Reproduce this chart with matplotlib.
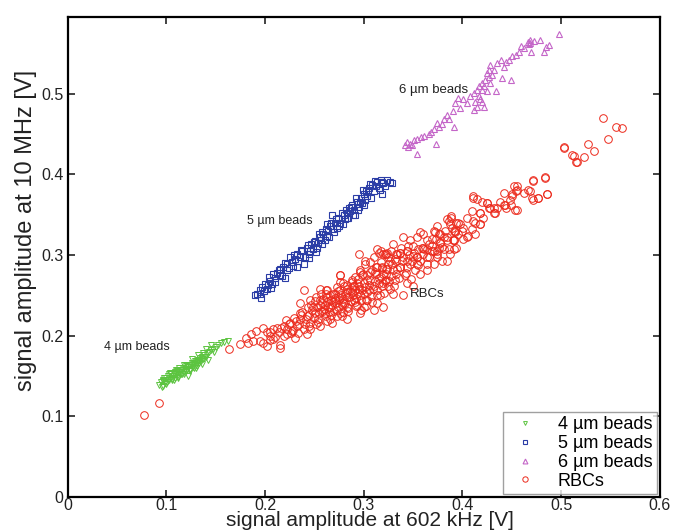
import matplotlib
matplotlib.use("Agg")
import matplotlib.pyplot as plt

plt.rcParams['font.family'] = ['Liberation Sans', 'DejaVu Sans']

# ---------------- data ----------------
beads4_x = [0.092,0.094,0.096,0.097,0.099,0.100,0.101,0.102,0.103,0.104,0.105,0.106,0.107,0.108,0.109,
            0.110,0.111,0.112,0.113,0.114,0.115,0.116,0.117,0.118,0.119,0.120,0.121,0.122,0.123,0.124,
            0.125,0.126,0.127,0.128,0.129,0.130,0.131,0.132,0.133,0.134,0.135,0.136,0.137,0.138,0.140,
            0.141,0.143,0.145,0.147,0.150,0.152,0.155,0.158,0.162,0.145,0.140,0.108,0.112,0.116,0.120,
            0.124,0.128,0.110,0.104,0.098,0.095,0.118,0.126,0.132,
            0.100,0.103,0.106,0.109,0.112,0.115,0.118,0.121,0.124,0.127,0.130,0.133,0.136,0.139,0.142,
            0.096,0.113,0.122,0.131,0.137,0.148]
beads4_y = [0.139,0.142,0.138,0.145,0.141,0.147,0.143,0.150,0.145,0.148,0.152,0.146,0.150,0.154,0.148,
            0.152,0.156,0.151,0.155,0.158,0.153,0.157,0.160,0.155,0.159,0.162,0.157,0.161,0.164,0.159,
            0.163,0.166,0.161,0.165,0.168,0.163,0.167,0.170,0.166,0.172,0.169,0.174,0.171,0.176,0.173,
            0.178,0.180,0.182,0.184,0.186,0.189,0.191,0.192,0.193,0.189,0.183,0.145,0.148,0.152,0.156,
            0.156,0.160,0.158,0.154,0.147,0.136,0.164,0.171,0.176,
            0.140,0.152,0.145,0.155,0.149,0.158,0.152,0.163,0.157,0.166,0.160,0.170,0.165,0.174,0.170,
            0.144,0.160,0.150,0.162,0.178,0.180]

beads5_x = [0.192,0.190,0.195,0.197,0.202,0.200,0.205,0.204,0.210,0.208,0.215,0.214,0.218,0.222,0.222,
            0.227,0.225,0.230,0.232,0.235,0.237,0.239,0.242,0.244,0.247,0.249,0.251,0.254,0.256,0.258,
            0.259,0.263,0.264,0.266,0.269,0.271,0.273,0.274,0.276,0.280,0.281,0.283,0.285,0.286,0.288,
            0.290,0.293,0.295,0.297,0.298,0.300,0.303,0.305,0.307,0.308,0.310,0.313,0.315,0.317,0.319,
            0.320,0.322,0.327,0.329,0.268,0.263,0.253,0.246,0.232,0.220,0.195,0.207,0.215,0.258,0.283,
            0.291,0.302,0.312,
            0.196,0.199,0.203,0.206,0.210,0.212,0.217,0.220,0.224,0.228,0.229,0.233,0.236,0.240,0.243,
            0.245,0.250,0.252,0.255,0.257,0.261,0.262,0.265,0.267,0.270,0.272,0.275,0.278,0.279,0.282,
            0.284,0.287,0.289,0.292,0.294,0.296,0.299,0.301,0.304,0.306,0.311,0.316,0.318,0.324,0.300]
beads5_y = [0.252,0.250,0.256,0.260,0.258,0.264,0.268,0.273,0.271,0.277,0.275,0.281,0.285,0.289,0.281,
            0.291,0.297,0.295,0.301,0.297,0.305,0.289,0.309,0.301,0.313,0.307,0.317,0.315,0.322,0.313,
            0.326,0.324,0.330,0.336,0.332,0.340,0.334,0.346,0.340,0.350,0.344,0.352,0.358,0.354,0.362,
            0.356,0.366,0.360,0.370,0.364,0.376,0.373,0.383,0.370,0.387,0.379,0.391,0.383,0.393,0.375,
            0.389,0.385,0.391,0.389,0.350,0.338,0.309,0.305,0.285,0.271,0.252,0.264,0.283,0.328,0.346,
            0.350,0.379,0.385,
            0.247,0.255,0.263,0.259,0.266,0.278,0.274,0.290,0.284,0.286,0.300,0.292,0.306,0.298,0.312,
            0.296,0.316,0.304,0.326,0.318,0.319,0.332,0.322,0.340,0.328,0.344,0.336,0.352,0.338,0.356,
            0.346,0.360,0.350,0.370,0.356,0.366,0.380,0.368,0.378,0.388,0.392,0.380,0.390,0.393,0.362]

beads6_x = [0.498,0.479,0.469,0.468,0.466,0.459,0.470,0.483,0.485,0.488,0.450,0.454,0.447,0.444,0.439,
            0.435,0.428,0.425,0.427,0.423,0.420,0.417,0.415,0.412,0.440,0.449,0.434,0.425,0.418,0.422,
            0.415,0.408,0.401,0.396,0.393,0.398,0.390,0.384,0.381,0.374,0.376,0.371,0.366,0.391,0.361,
            0.354,0.351,0.347,0.342,0.344,0.354,0.373,0.420,0.413,0.469,0.473,0.457,0.462,0.442,0.432,
            0.428,0.420,0.417,0.405,0.412,0.386,0.379,0.368,0.358,0.349,0.345,0.427,0.430,0.422]
beads6_y = [0.574,0.567,0.566,0.561,0.564,0.559,0.552,0.552,0.558,0.560,0.546,0.548,0.542,0.539,0.542,
            0.538,0.535,0.525,0.521,0.517,0.513,0.509,0.505,0.501,0.519,0.517,0.503,0.503,0.493,0.484,
            0.484,0.497,0.493,0.495,0.488,0.482,0.478,0.474,0.468,0.464,0.458,0.456,0.450,0.458,0.448,
            0.444,0.442,0.438,0.436,0.440,0.425,0.438,0.490,0.490,0.563,0.565,0.552,0.556,0.533,0.529,
            0.513,0.505,0.497,0.488,0.480,0.468,0.462,0.452,0.446,0.436,0.434,0.529,0.523,0.509]

rbc_x = [0.077,0.092,0.175,0.163,
         0.181,0.186,0.191,0.195,0.198,0.202,0.198,0.205,0.208,0.214,0.215,0.219,0.222,0.225,0.227,0.232,
         0.235,0.239,0.242,0.246,0.251,0.254,0.256,0.259,0.262,0.266,0.269,0.273,0.274,0.276,0.278,0.279,
         0.283,0.284,0.288,0.290,0.293,0.295,0.296,0.300,0.301,0.303,0.305,0.306,0.310,0.311,0.313,0.317,
         0.318,0.320,0.323,0.325,0.327,0.330,0.332,0.333,0.337,0.340,0.342,0.344,0.347,0.350,0.352,0.355,
         0.357,0.360,0.364,0.366,0.371,0.374,0.377,0.381,0.384,0.387,0.391,0.396,0.391,0.239,0.256,0.262,
         0.271,0.276,0.283,0.291,0.296,0.310,0.317,0.323,0.330,0.338,0.347,0.354,0.360,0.371,0.313,0.320,
         0.295,0.306,0.328,0.340,0.357,0.374,0.387,0.394,0.320,0.296,0.283,0.268,0.256,0.242,0.230,0.215,
         0.202,0.188,0.183,0.205,0.246,0.273,0.300,0.313,0.330,0.344,0.357,0.371,0.384,0.364,0.310,0.340,
         0.350,0.222,0.235,0.249,0.262,0.276,0.290,0.303,0.313,0.327,0.337,0.350,0.364,0.377,0.256,0.266,
         0.279,0.288,0.298,0.308,0.317,0.325,0.333,0.344,0.354,0.360,0.369,0.376,0.382,0.235,0.246,0.252,
         0.261,0.271,0.283,0.293,0.303,0.315,0.323,0.333,0.344,0.354,0.364,0.374,0.379,0.391,
         0.484,0.472,0.486,0.477,0.472,0.469,0.462,0.455,0.452,0.450,0.448,0.453,0.443,0.438,0.433,0.428,
         0.425,0.420,0.418,0.411,0.410,0.405,0.411,0.413,0.418,0.406,0.401,0.396,0.393,0.388,0.384,0.381,
         0.391,0.377,0.372,0.369,0.364,0.374,0.366,0.359,0.354,0.349,0.345,0.337,0.332,0.322,0.315,0.312,
         0.301,0.296,0.276,0.263,0.257,0.394,0.386,0.355,0.337,0.323,0.442,0.432,0.421,0.389,0.401,
         0.503,0.511,0.515,0.472,0.484,0.466,0.471,0.477,0.486,0.455,0.454,0.450,0.449,0.455,0.442,0.444,
         0.435,0.432,0.425,0.427,0.411,0.415,0.418,0.413,0.418,0.410,0.388,0.386,0.398,0.400,0.393,0.405,
         0.390,0.384,0.376,0.373,0.379,0.369,0.361,0.351,0.344,0.334,0.324,
         0.543,0.548,0.503,0.513,0.516,0.523,0.527,0.533,0.556,0.562,
         0.245,0.248,0.250,0.253,0.255,0.257,0.258,0.260,0.261,0.263,0.264,0.265,0.267,0.268,0.270,0.271,
         0.272,0.274,0.275,0.277,0.278,0.279,0.281,0.282,0.283,0.285,0.286,0.287,0.289,0.291,0.292,0.294,
         0.295,0.297,0.298,0.300,0.301,0.303,0.305,0.307,0.309,0.311,0.313,0.315,0.318,0.320,0.322,0.325,
         0.328,0.231,0.236,0.240,0.243,0.228,0.224,0.219,0.212,0.208,0.233,0.252,0.266,0.279,0.292,0.302,
         0.289,0.274,0.262,0.283,
         0.205,0.210,0.216,0.221,0.226,0.229,0.234,0.237,0.241,0.244,0.247,0.251,0.254,0.259,0.263,0.267,
         0.269,0.273,0.276,0.280,0.284,0.288,0.291,0.294,0.297,0.299,0.302,0.306,0.308,0.312,0.316,0.319,
         0.321,0.324,0.326,0.329,0.331,0.334,0.336,0.339,0.343,0.346,0.348]
rbc_y = [0.101,0.117,0.190,0.184,
         0.197,0.202,0.206,0.193,0.210,0.204,0.191,0.199,0.208,0.204,0.189,0.212,0.202,0.216,0.206,0.212,
         0.220,0.208,0.224,0.216,0.228,0.220,0.238,0.230,0.224,0.236,0.242,0.232,0.248,0.275,0.224,0.240,
         0.248,0.234,0.254,0.244,0.238,0.258,0.250,0.265,0.293,0.244,0.256,0.269,0.261,0.279,0.250,0.273,
         0.285,0.265,0.277,0.289,0.258,0.281,0.269,0.293,0.285,0.297,0.275,0.305,0.289,0.299,0.281,0.307,
         0.293,0.301,0.289,0.313,0.305,0.297,0.315,0.307,0.322,0.301,0.318,0.326,0.330,0.256,0.258,0.256,
         0.252,0.267,0.263,0.273,0.281,0.297,0.305,0.301,0.313,0.309,0.318,0.322,0.326,0.330,0.307,0.301,
         0.301,0.291,0.305,0.322,0.328,0.336,0.338,0.340,0.236,0.228,0.220,0.216,0.212,0.202,0.197,0.185,
         0.187,0.193,0.191,0.195,0.208,0.224,0.236,0.240,0.252,0.265,0.277,0.289,0.293,0.281,0.232,0.250,
         0.261,0.208,0.228,0.236,0.248,0.256,0.261,0.275,0.285,0.293,0.303,0.311,0.318,0.326,0.244,0.250,
         0.265,0.269,0.275,0.281,0.291,0.297,0.301,0.293,0.297,0.309,0.320,0.309,0.330,0.240,0.244,0.248,
         0.238,0.244,0.254,0.265,0.269,0.265,0.269,0.277,0.285,0.289,0.297,0.305,0.293,0.307,
         0.397,0.392,0.375,0.370,0.368,0.379,0.377,0.381,0.385,0.375,0.368,0.356,0.362,0.366,0.352,0.358,
         0.364,0.366,0.352,0.370,0.354,0.346,0.342,0.326,0.338,0.324,0.334,0.340,0.328,0.346,0.344,0.322,
         0.318,0.316,0.328,0.311,0.307,0.301,0.297,0.309,0.297,0.293,0.311,0.303,0.295,0.301,0.303,0.285,
         0.289,0.279,0.275,0.256,0.252,0.309,0.307,0.287,0.285,0.283,0.377,0.358,0.346,0.334,0.320,
         0.432,0.424,0.415,0.393,0.395,0.381,0.371,0.371,0.375,0.385,0.379,0.373,0.362,0.356,0.362,0.358,
         0.358,0.352,0.364,0.358,0.373,0.369,0.352,0.340,0.338,0.332,0.348,0.342,0.338,0.330,0.330,0.322,
         0.318,0.318,0.326,0.320,0.310,0.305,0.307,0.303,0.305,0.301,0.303,
         0.470,0.444,0.434,0.423,0.415,0.421,0.437,0.429,0.458,0.457,
         0.226,0.232,0.222,0.235,0.228,0.231,0.240,0.233,0.228,0.242,0.235,0.229,0.244,0.238,0.231,0.247,
         0.240,0.236,0.244,0.250,0.238,0.246,0.241,0.252,0.236,0.248,0.255,0.243,0.250,0.256,0.247,0.253,
         0.262,0.244,0.257,0.251,0.260,0.254,0.263,0.249,0.258,0.268,0.256,0.271,0.262,0.276,0.268,0.262,
         0.274,0.218,0.225,0.215,0.236,0.207,0.214,0.200,0.210,0.196,0.203,0.214,0.221,0.229,0.237,0.244,
         0.262,0.255,0.251,0.258,
         0.205,0.198,0.210,0.219,0.203,0.222,0.214,0.229,0.220,0.212,0.238,0.243,0.217,0.246,0.218,0.226,
         0.252,0.260,0.228,0.262,0.230,0.266,0.242,0.270,0.232,0.276,0.237,0.279,0.242,0.276,0.250,0.284,
         0.253,0.283,0.268,0.289,0.262,0.282,0.272,0.292,0.278,0.300,0.270]

labels = ['4 \u00b5m beads', '5 \u00b5m beads', '6 \u00b5m beads', 'RBCs']
x_ticks = [0, 0.1, 0.2, 0.3, 0.4, 0.5, 0.6]
y_ticks = [0, 0.1, 0.2, 0.3, 0.4, 0.5]

# ---------------- figure ----------------
fig = plt.figure(figsize=(6.78, 5.30), dpi=100)
ax = fig.add_axes([0.100, 0.0623, 0.873, 0.9057])

green = '#5cc440'
blue = '#2b3da6'
purple = '#c466c8'
red = '#ec2a1c'

ax.plot(beads4_x, beads4_y, linestyle='none', marker='v', markersize=4,
        markerfacecolor='none', markeredgecolor=green, markeredgewidth=0.7, label=labels[0])
ax.plot(beads5_x, beads5_y, linestyle='none', marker='s', markersize=4.5,
        markerfacecolor='none', markeredgecolor=blue, markeredgewidth=0.8, label=labels[1])
ax.plot(beads6_x, beads6_y, linestyle='none', marker='^', markersize=5,
        markerfacecolor='none', markeredgecolor=purple, markeredgewidth=0.8, label=labels[2])
ax.plot(rbc_x, rbc_y, linestyle='none', marker='o', markersize=5.5,
        markerfacecolor='none', markeredgecolor=red, markeredgewidth=0.7, label=labels[3])

ax.set_xlim(0, 0.6)
ax.set_ylim(0, 0.595)
ax.set_xticks(x_ticks)
ax.set_xticklabels(['0', '0.1', '0.2', '0.3', '0.4', '0.5', '0.6'])
ax.set_yticks(y_ticks)
ax.set_yticklabels(['0', '0.1', '0.2', '0.3', '0.4', '0.5'])
ax.tick_params(direction='in', top=True, right=True, length=5, width=1.2,
               labelsize=11.5, colors='#222222')
ax.tick_params(axis='x', pad=0.5)
ax.tick_params(axis='y', pad=3)
for sp in ax.spines.values():
    sp.set_linewidth(1.6)

ax.set_xlabel('signal amplitude at 602 kHz [V]', fontsize=15, color='#222222')
ax.xaxis.set_label_coords(0.545, 0.0068, transform=fig.transFigure)
ax.xaxis.label.set_va('baseline')
ax.set_ylabel('signal amplitude at 10 MHz [V]', fontsize=17, color='#222222')
ax.yaxis.set_label_coords(0.054, 0.566, transform=fig.transFigure)

ax.text(0.070, 0.186, labels[0], fontsize=9, ha='center', va='center', color='#222222')
ax.text(0.215, 0.342, labels[1], fontsize=9, ha='center', va='center', color='#222222')
ax.text(0.371, 0.504, labels[2], fontsize=9.5, ha='center', va='center', color='#222222')
ax.text(0.364, 0.251, labels[3], fontsize=9.5, ha='center', va='center', color='#222222')

leg = ax.legend(loc='lower right', fontsize=13, frameon=True, fancybox=False,
                edgecolor='#888888', handlelength=2.0, handletextpad=0.8,
                borderpad=0.25, labelspacing=0.1, borderaxespad=0.15, markerscale=0.7)
leg.get_frame().set_linewidth(1.0)

fig.savefig('out.png', dpi=100)
